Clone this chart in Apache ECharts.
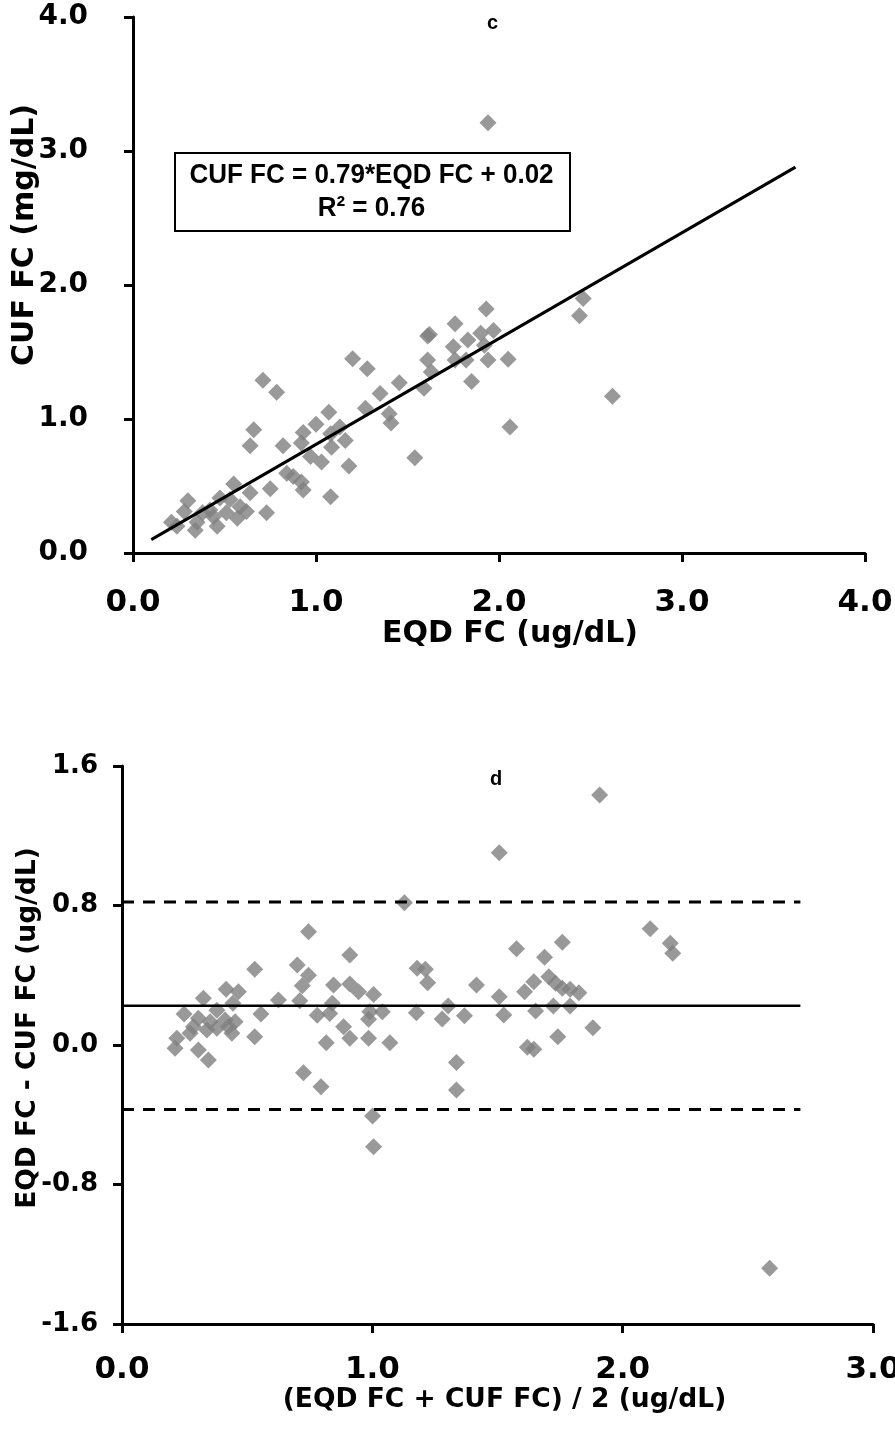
<!DOCTYPE html>
<html>
<head>
<meta charset="utf-8">
<script src="https://cdn.jsdelivr.net/npm/echarts@6/dist/echarts.min.js"></script>
<style>
html,body{margin:0;padding:0;background:#fff;}
#chart{width:895px;height:1436px;}
</style>
</head>
<body>
<div id="chart"></div>
<script>
// ---- Panel c: EQD FC vs CUF FC ----
var topEqd = [0.71,0.785,1.20,1.28,1.61,1.61,1.59,1.455,1.35,1.40,1.41,1.27,1.07,1.00,0.93,1.13,1.16,1.08,1.085,1.03,0.97,0.92,1.18,1.54,1.08,0.66,0.64,0.82,0.84,0.92,0.93,0.876,0.75,0.73,0.55,0.64,0.62,0.57,0.53,0.475,0.46,0.42,0.38,0.30,0.28,0.34,0.35,0.21,0.24,0.51,0.585,0.44,2.46,2.44,1.93,1.62,1.76,1.90,1.97,1.83,1.75,1.92,1.94,1.82,1.76,2.05,1.63,1.85,2.62,2.06,1.94];
var topCuf = [1.29,1.20,1.45,1.375,1.62,1.44,1.23,1.27,1.19,1.04,0.97,1.08,1.05,0.96,0.90,0.94,0.84,0.89,0.79,0.68,0.72,0.82,0.65,0.71,0.42,0.92,0.80,0.80,0.595,0.53,0.47,0.57,0.48,0.30,0.515,0.45,0.31,0.26,0.40,0.41,0.20,0.32,0.30,0.39,0.31,0.17,0.23,0.23,0.20,0.30,0.345,0.27,1.90,1.77,1.82,1.63,1.71,1.64,1.66,1.59,1.54,1.55,1.44,1.44,1.44,1.445,1.35,1.28,1.17,0.94,3.21];
var fitX = [0.10, 3.62];
var fitY = [0.10, 2.88];
var topTicks = ['0.0','1.0','2.0','3.0','4.0'];

// ---- Panel d: Bland-Altman ----
var baMean = [1.128,0.745,0.91,0.53,0.70,0.745,0.72,0.71,0.625,0.845,0.91,0.945,1.005,0.84,0.83,0.78,0.99,1.04,0.985,0.885,0.91,0.985,1.07,0.816,0.555,0.53,0.725,0.795,0.325,0.416,0.465,0.443,0.379,0.248,0.305,0.352,0.412,0.452,0.285,0.339,0.379,0.439,0.272,0.219,0.212,0.305,0.345,0.425,
  1.507,2.11,2.19,2.20,1.759,1.576,1.688,1.179,1.212,1.221,1.416,1.645,1.608,1.705,1.732,1.759,1.79,1.825,1.507,1.303,1.176,1.279,1.368,1.525,1.652,1.723,1.79,1.881,1.741,1.619,1.645,1.336,1.336,1.001,1.005,1.908,2.587];
var baDiff = [0.816,0.65,0.516,0.434,0.459,0.40,0.34,0.254,0.258,0.344,0.35,0.306,0.29,0.24,0.18,0.17,0.19,0.19,0.147,0.105,0.038,0.038,0.013,0.013,0.178,0.048,-0.159,-0.239,0.268,0.319,0.306,0.239,0.20,0.178,0.153,0.134,0.143,0.134,0.105,0.086,0.096,0.067,0.067,0.038,-0.019,-0.029,-0.086,0.105,
  1.103,0.667,0.583,0.526,0.589,0.552,0.503,0.44,0.434,0.357,0.344,0.363,0.306,0.392,0.354,0.325,0.319,0.30,0.277,0.224,0.185,0.149,0.168,0.172,0.195,0.224,0.224,0.099,0.048,-0.013,-0.025,-0.101,-0.258,-0.407,-0.583,1.434,-1.28];
var baLineX = [0, 2.71];
var baMeanDiff = 0.225;
var baUpper = 0.82;
var baLower = -0.37;
var bottomXTicks = ['0.0','1.0','2.0','3.0'];
var bottomYTicks = ['-1.6','-0.8','0.0','0.8','1.6'];

function zip(a, b) { return a.map(function (v, i) { return [v, b[i]]; }); }
function hline(xs, v) { return xs.map(function (x) { return [x, v]; }); }

var tickFont = { color: '#000', fontFamily: 'DejaVu Sans', fontWeight: 'bold', fontSize: 31 };
var tickFontY = { color: '#000', fontFamily: 'DejaVu Sans', fontWeight: 'bold', fontSize: 28 };
var tickFontSmall = { color: '#000', fontFamily: 'DejaVu Sans', fontWeight: 'bold', fontSize: 26 };
var nameFontTop = { color: '#000', fontFamily: 'DejaVu Sans', fontWeight: 'bold', fontSize: 30 };
var nameFontBottom = { color: '#000', fontFamily: 'DejaVu Sans', fontWeight: 'bold', fontSize: 26.5 };
var axLine = { show: true, onZero: false, lineStyle: { color: '#000', width: 3 } };
var axTick = { show: true, inside: false, length: 9, lineStyle: { color: '#000', width: 3 } };
var diamond = { symbol: 'diamond', symbolSize: 17, itemStyle: { color: '#808080' } };

var chart = echarts.init(document.getElementById('chart'), null, { renderer: 'canvas' });
chart.setOption({
  backgroundColor: '#fff',
  animation: false,
  title: [
    { text: 'c', left: 482, top: 8, textStyle: { fontFamily: 'Liberation Sans', fontWeight: 'bold', fontSize: 20, color: '#000' } },
    { text: 'd', left: 485, top: 764, textStyle: { fontFamily: 'Liberation Sans', fontWeight: 'bold', fontSize: 20, color: '#000' } }
  ],
  grid: [
    { left: 133, top: 17, width: 732, height: 536, containLabel: false, outerBoundsMode: 'none' },
    { left: 122, top: 766, width: 751, height: 558, containLabel: false, outerBoundsMode: 'none' }
  ],
  xAxis: [
    { gridIndex: 0, type: 'value', min: 0, max: 4, interval: 1,
      name: 'EQD FC (ug/dL)', nameLocation: 'middle', nameGap: 66, nameMoveOverlap: false,
      nameTextStyle: Object.assign({ padding: [0, 0, 0, 22] }, nameFontTop),
      axisLine: axLine, axisTick: axTick, splitLine: { show: false },
      axisLabel: Object.assign({ margin: 34, formatter: function (v) { return topTicks[Math.round(v)]; } }, tickFont) },
    { gridIndex: 1, type: 'value', min: 0, max: 3, interval: 1,
      name: '(EQD FC + CUF FC) / 2 (ug/dL)', nameLocation: 'middle', nameGap: 63, nameMoveOverlap: false,
      nameTextStyle: Object.assign({ padding: [0, 0, 0, 14] }, nameFontBottom),
      axisLine: axLine, axisTick: axTick, splitLine: { show: false },
      axisLabel: Object.assign({ margin: 30, formatter: function (v) { return bottomXTicks[Math.round(v)]; } }, tickFont) }
  ],
  yAxis: [
    { gridIndex: 0, type: 'value', min: 0, max: 4, interval: 1,
      name: 'CUF FC (mg/dL)', nameLocation: 'middle', nameGap: 93, nameMoveOverlap: false,
      nameTextStyle: Object.assign({ padding: [0, 0, 0, 100] }, nameFontTop),
      axisLine: axLine, axisTick: axTick, splitLine: { show: false },
      axisLabel: Object.assign({ margin: 45, formatter: function (v) { return topTicks[Math.round(v)]; } }, tickFontY) },
    { gridIndex: 1, type: 'value', min: -1.6, max: 1.6, interval: 0.8,
      name: 'EQD FC - CUF FC (ug/dL)', nameLocation: 'middle', nameGap: 80, nameMoveOverlap: false,
      nameTextStyle: Object.assign({ padding: [0, 0, 0, 34] }, nameFontBottom),
      axisLine: axLine, axisTick: axTick, splitLine: { show: false },
      axisLabel: Object.assign({ margin: 24, formatter: function (v) { return bottomYTicks[Math.round((v + 1.6) / 0.8)]; } }, tickFontSmall) }
  ],
  graphic: [
    { type: 'rect', left: 174, top: 152, shape: { width: 395, height: 78 },
      style: { fill: '#fff', stroke: '#000', lineWidth: 2 }, z: 10 },
    { type: 'text', x: 371.5, y: 175, scaleY: 1.08, z: 11,
      style: { text: 'CUF FC = 0.79*EQD FC + 0.02', font: 'bold 26px "Liberation Sans"', fill: '#000', align: 'center', verticalAlign: 'middle' } },
    { type: 'text', x: 371.5, y: 208, scaleY: 1.08, z: 11,
      style: { text: 'R\u00B2 = 0.76', font: 'bold 26px "Liberation Sans"', fill: '#000', align: 'center', verticalAlign: 'middle' } }
  ],
  series: [
    Object.assign({ type: 'scatter', xAxisIndex: 0, yAxisIndex: 0, data: zip(topEqd, topCuf), z: 3 }, diamond),
    { type: 'line', xAxisIndex: 0, yAxisIndex: 0, data: zip(fitX, fitY), symbol: 'none',
      lineStyle: { color: '#000', width: 3 }, z: 4 },
    Object.assign({ type: 'scatter', xAxisIndex: 1, yAxisIndex: 1, data: zip(baMean, baDiff), z: 3 }, diamond),
    { type: 'line', xAxisIndex: 1, yAxisIndex: 1, data: hline(baLineX, baMeanDiff), symbol: 'none',
      lineStyle: { color: '#000', width: 2.5 }, z: 4 },
    { type: 'line', xAxisIndex: 1, yAxisIndex: 1, data: hline(baLineX, baUpper), symbol: 'none',
      lineStyle: { color: '#000', width: 3, type: [12, 9] }, z: 4 },
    { type: 'line', xAxisIndex: 1, yAxisIndex: 1, data: hline(baLineX, baLower), symbol: 'none',
      lineStyle: { color: '#000', width: 3, type: [12, 9] }, z: 4 }
  ]
});
</script>
</body>
</html>
